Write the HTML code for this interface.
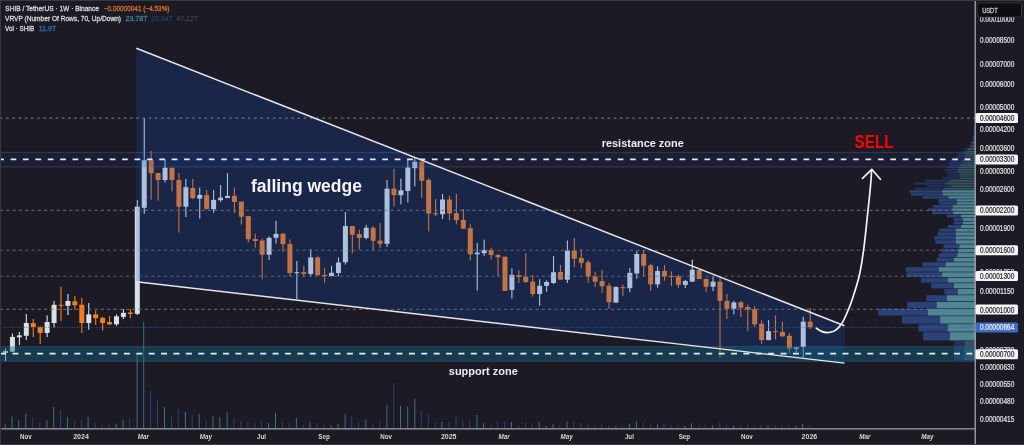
<!DOCTYPE html>
<html><head><meta charset="utf-8"><style>html,body{margin:0;padding:0;background:#1c1a24;overflow:hidden}svg{display:block;will-change:transform}</style></head>
<body><svg width="1024" height="445" viewBox="0 0 1024 445"><rect x="0" y="0" width="1024" height="445" fill="#1c1a24"/><rect x="4.70" y="424.1" width="1.0" height="4.2" fill="#3a7282"/><rect x="11.50" y="416.4" width="1.0" height="11.9" fill="#3a7282"/><rect x="18.20" y="420.2" width="1.0" height="8.1" fill="#3a7282"/><rect x="25.30" y="413.6" width="1.0" height="14.7" fill="#3a7282"/><rect x="32.30" y="417.8" width="1.0" height="10.5" fill="#274275"/><rect x="39.30" y="422.3" width="1.0" height="6.0" fill="#274275"/><rect x="46.40" y="420.2" width="1.0" height="8.1" fill="#3a7282"/><rect x="53.20" y="407.0" width="1.0" height="21.3" fill="#3a7282"/><rect x="60.00" y="410.5" width="1.0" height="17.8" fill="#274275"/><rect x="67.00" y="417.1" width="1.0" height="11.2" fill="#3a7282"/><rect x="74.00" y="421.1" width="1.0" height="7.2" fill="#274275"/><rect x="80.80" y="419.4" width="1.0" height="8.9" fill="#274275"/><rect x="87.60" y="416.6" width="1.0" height="11.7" fill="#3a7282"/><rect x="94.60" y="422.5" width="1.0" height="5.8" fill="#274275"/><rect x="101.70" y="424.1" width="1.0" height="4.2" fill="#274275"/><rect x="108.50" y="424.6" width="1.0" height="3.7" fill="#274275"/><rect x="115.70" y="423.7" width="1.0" height="4.6" fill="#3a7282"/><rect x="122.50" y="419.9" width="1.0" height="8.4" fill="#3a7282"/><rect x="129.10" y="419.4" width="1.0" height="8.9" fill="#274275"/><rect x="136.60" y="355.0" width="1.0" height="73.3" fill="#3a7282"/><rect x="143.20" y="321.9" width="1.0" height="106.4" fill="#3a7282"/><rect x="150.00" y="391.0" width="1.0" height="37.3" fill="#274275"/><rect x="157.00" y="400.2" width="1.0" height="28.1" fill="#274275"/><rect x="164.00" y="407.0" width="1.0" height="21.3" fill="#3a7282"/><rect x="171.00" y="416.4" width="1.0" height="11.9" fill="#274275"/><rect x="177.80" y="408.9" width="1.0" height="19.4" fill="#274275"/><rect x="184.90" y="411.7" width="1.0" height="16.6" fill="#3a7282"/><rect x="191.70" y="415.0" width="1.0" height="13.3" fill="#274275"/><rect x="198.70" y="414.0" width="1.0" height="14.3" fill="#3a7282"/><rect x="205.70" y="420.2" width="1.0" height="8.1" fill="#274275"/><rect x="212.50" y="416.0" width="1.0" height="12.3" fill="#3a7282"/><rect x="219.30" y="416.9" width="1.0" height="11.4" fill="#3a7282"/><rect x="226.60" y="412.0" width="1.0" height="16.3" fill="#3a7282"/><rect x="233.40" y="418.7" width="1.0" height="9.6" fill="#274275"/><rect x="240.40" y="421.1" width="1.0" height="7.2" fill="#274275"/><rect x="247.40" y="422.0" width="1.0" height="6.3" fill="#274275"/><rect x="254.40" y="423.4" width="1.0" height="4.9" fill="#274275"/><rect x="261.00" y="421.1" width="1.0" height="7.2" fill="#274275"/><rect x="268.00" y="423.0" width="1.0" height="5.3" fill="#3a7282"/><rect x="275.00" y="412.7" width="1.0" height="15.6" fill="#3a7282"/><rect x="281.80" y="422.0" width="1.0" height="6.3" fill="#274275"/><rect x="288.90" y="423.0" width="1.0" height="5.3" fill="#274275"/><rect x="295.90" y="417.6" width="1.0" height="10.7" fill="#3a7282"/><rect x="302.90" y="424.6" width="1.0" height="3.7" fill="#274275"/><rect x="309.50" y="422.0" width="1.0" height="6.3" fill="#3a7282"/><rect x="316.50" y="423.4" width="1.0" height="4.9" fill="#274275"/><rect x="323.60" y="424.6" width="1.0" height="3.7" fill="#274275"/><rect x="330.60" y="425.3" width="1.0" height="3.0" fill="#3a7282"/><rect x="337.60" y="423.9" width="1.0" height="4.4" fill="#3a7282"/><rect x="344.60" y="414.1" width="1.0" height="14.2" fill="#3a7282"/><rect x="351.20" y="416.4" width="1.0" height="11.9" fill="#274275"/><rect x="358.00" y="422.0" width="1.0" height="6.3" fill="#274275"/><rect x="365.30" y="419.7" width="1.0" height="8.6" fill="#3a7282"/><rect x="372.30" y="423.9" width="1.0" height="4.4" fill="#274275"/><rect x="379.10" y="421.1" width="1.0" height="7.2" fill="#274275"/><rect x="386.40" y="404.7" width="1.0" height="23.6" fill="#3a7282"/><rect x="393.20" y="382.9" width="1.0" height="45.4" fill="#274275"/><rect x="400.00" y="405.6" width="1.0" height="22.7" fill="#3a7282"/><rect x="407.20" y="406.8" width="1.0" height="21.5" fill="#3a7282"/><rect x="414.30" y="398.8" width="1.0" height="29.5" fill="#3a7282"/><rect x="420.80" y="411.0" width="1.0" height="17.3" fill="#274275"/><rect x="427.80" y="414.5" width="1.0" height="13.8" fill="#274275"/><rect x="434.90" y="422.3" width="1.0" height="6.0" fill="#274275"/><rect x="441.40" y="422.0" width="1.0" height="6.3" fill="#3a7282"/><rect x="448.50" y="422.0" width="1.0" height="6.3" fill="#274275"/><rect x="455.50" y="414.5" width="1.0" height="13.8" fill="#274275"/><rect x="462.30" y="419.7" width="1.0" height="8.6" fill="#274275"/><rect x="469.10" y="420.4" width="1.0" height="7.9" fill="#274275"/><rect x="476.50" y="415.0" width="1.0" height="13.3" fill="#3a7282"/><rect x="483.10" y="422.7" width="1.0" height="5.6" fill="#3a7282"/><rect x="490.10" y="425.1" width="1.0" height="3.2" fill="#274275"/><rect x="497.20" y="421.1" width="1.0" height="7.2" fill="#274275"/><rect x="504.20" y="421.1" width="1.0" height="7.2" fill="#274275"/><rect x="511.00" y="422.0" width="1.0" height="6.3" fill="#3a7282"/><rect x="518.00" y="425.1" width="1.0" height="3.2" fill="#274275"/><rect x="525.00" y="422.7" width="1.0" height="5.6" fill="#274275"/><rect x="531.60" y="423.4" width="1.0" height="4.9" fill="#274275"/><rect x="538.60" y="422.0" width="1.0" height="6.3" fill="#3a7282"/><rect x="545.70" y="425.8" width="1.0" height="2.5" fill="#3a7282"/><rect x="552.50" y="423.9" width="1.0" height="4.4" fill="#3a7282"/><rect x="559.30" y="425.1" width="1.0" height="3.2" fill="#274275"/><rect x="566.50" y="421.6" width="1.0" height="6.7" fill="#3a7282"/><rect x="573.30" y="421.6" width="1.0" height="6.7" fill="#274275"/><rect x="580.40" y="422.7" width="1.0" height="5.6" fill="#274275"/><rect x="587.40" y="424.4" width="1.0" height="3.9" fill="#274275"/><rect x="594.20" y="425.1" width="1.0" height="3.2" fill="#274275"/><rect x="601.20" y="423.9" width="1.0" height="4.4" fill="#274275"/><rect x="608.20" y="425.1" width="1.0" height="3.2" fill="#274275"/><rect x="615.30" y="426.2" width="1.0" height="2.1" fill="#3a7282"/><rect x="621.80" y="425.8" width="1.0" height="2.5" fill="#274275"/><rect x="628.90" y="423.4" width="1.0" height="4.9" fill="#3a7282"/><rect x="635.90" y="421.1" width="1.0" height="7.2" fill="#3a7282"/><rect x="642.90" y="422.7" width="1.0" height="5.6" fill="#274275"/><rect x="650.00" y="424.4" width="1.0" height="3.9" fill="#274275"/><rect x="657.00" y="424.4" width="1.0" height="3.9" fill="#3a7282"/><rect x="663.50" y="423.9" width="1.0" height="4.4" fill="#274275"/><rect x="670.60" y="425.1" width="1.0" height="3.2" fill="#274275"/><rect x="677.40" y="425.1" width="1.0" height="3.2" fill="#274275"/><rect x="684.40" y="425.8" width="1.0" height="2.5" fill="#3a7282"/><rect x="691.00" y="423.4" width="1.0" height="4.9" fill="#3a7282"/><rect x="698.50" y="425.8" width="1.0" height="2.5" fill="#274275"/><rect x="705.00" y="425.1" width="1.0" height="3.2" fill="#274275"/><rect x="711.90" y="425.5" width="1.0" height="2.8" fill="#3a7282"/><rect x="719.40" y="422.0" width="1.0" height="6.3" fill="#274275"/><rect x="726.00" y="425.0" width="1.0" height="3.3" fill="#274275"/><rect x="733.00" y="425.5" width="1.0" height="2.8" fill="#3a7282"/><rect x="740.00" y="425.5" width="1.0" height="2.8" fill="#274275"/><rect x="747.10" y="424.0" width="1.0" height="4.3" fill="#274275"/><rect x="753.90" y="425.5" width="1.0" height="2.8" fill="#274275"/><rect x="760.40" y="425.0" width="1.0" height="3.3" fill="#274275"/><rect x="767.50" y="425.5" width="1.0" height="2.8" fill="#3a7282"/><rect x="774.50" y="425.0" width="1.0" height="3.3" fill="#274275"/><rect x="781.50" y="425.5" width="1.0" height="2.8" fill="#274275"/><rect x="788.50" y="425.5" width="1.0" height="2.8" fill="#274275"/><rect x="795.50" y="425.5" width="1.0" height="2.8" fill="#3a7282"/><rect x="802.10" y="423.9" width="1.0" height="4.4" fill="#3a7282"/><rect x="809.20" y="425.0" width="1.0" height="3.3" fill="#274275"/><rect x="4.95" y="348.7" width="1.1" height="12.3" fill="#d9e1e5"/><rect x="3.00" y="351.0" width="5.0" height="2.0" fill="#d9e1e5"/><rect x="11.88" y="333.5" width="1.1" height="18.5" fill="#d9e1e5"/><rect x="9.93" y="336.9" width="5.0" height="14.7" fill="#d9e1e5"/><rect x="18.82" y="332.0" width="1.1" height="13.0" fill="#d9e1e5"/><rect x="16.87" y="335.4" width="5.0" height="1.9" fill="#d9e1e5"/><rect x="25.76" y="314.0" width="1.1" height="26.0" fill="#d9e1e5"/><rect x="23.81" y="323.0" width="5.0" height="12.8" fill="#d9e1e5"/><rect x="32.70" y="319.0" width="1.1" height="18.0" fill="#f57d1f"/><rect x="30.75" y="323.2" width="5.0" height="3.8" fill="#f57d1f"/><rect x="39.63" y="326.8" width="1.1" height="17.2" fill="#f57d1f"/><rect x="37.68" y="326.8" width="5.0" height="6.1" fill="#f57d1f"/><rect x="46.57" y="315.3" width="1.1" height="21.7" fill="#d9e1e5"/><rect x="44.62" y="322.0" width="5.0" height="10.9" fill="#d9e1e5"/><rect x="53.51" y="301.0" width="1.1" height="26.4" fill="#d9e1e5"/><rect x="51.56" y="304.8" width="5.0" height="18.2" fill="#d9e1e5"/><rect x="60.44" y="286.7" width="1.1" height="34.3" fill="#f57d1f"/><rect x="58.49" y="304.8" width="5.0" height="1.0" fill="#f57d1f"/><rect x="67.38" y="294.0" width="1.1" height="21.0" fill="#d9e1e5"/><rect x="65.43" y="301.0" width="5.0" height="4.8" fill="#d9e1e5"/><rect x="74.32" y="295.9" width="1.1" height="13.7" fill="#f57d1f"/><rect x="72.37" y="301.4" width="5.0" height="3.8" fill="#f57d1f"/><rect x="81.25" y="298.0" width="1.1" height="35.0" fill="#f57d1f"/><rect x="79.30" y="304.8" width="5.0" height="18.2" fill="#f57d1f"/><rect x="88.19" y="303.0" width="1.1" height="26.7" fill="#d9e1e5"/><rect x="86.24" y="314.4" width="5.0" height="8.6" fill="#d9e1e5"/><rect x="95.13" y="310.6" width="1.1" height="14.3" fill="#f57d1f"/><rect x="93.18" y="314.4" width="5.0" height="3.8" fill="#f57d1f"/><rect x="102.07" y="317.0" width="1.1" height="13.6" fill="#f57d1f"/><rect x="100.12" y="317.8" width="5.0" height="5.2" fill="#f57d1f"/><rect x="109.00" y="316.0" width="1.1" height="8.5" fill="#f57d1f"/><rect x="107.05" y="322.0" width="5.0" height="2.5" fill="#f57d1f"/><rect x="115.94" y="314.4" width="1.1" height="11.4" fill="#d9e1e5"/><rect x="113.99" y="316.3" width="5.0" height="8.0" fill="#d9e1e5"/><rect x="122.88" y="309.0" width="1.1" height="10.0" fill="#d9e1e5"/><rect x="120.93" y="312.8" width="5.0" height="4.1" fill="#d9e1e5"/><rect x="129.81" y="309.0" width="1.1" height="9.2" fill="#f57d1f"/><rect x="127.86" y="312.5" width="5.0" height="1.5" fill="#f57d1f"/><rect x="136.75" y="200.2" width="1.1" height="114.8" fill="#d9e1e5"/><rect x="134.80" y="206.7" width="5.0" height="107.1" fill="#d9e1e5"/><rect x="143.69" y="118.0" width="1.1" height="95.7" fill="#d9e1e5"/><rect x="141.74" y="160.2" width="5.0" height="47.6" fill="#d9e1e5"/><rect x="150.62" y="151.0" width="1.1" height="48.7" fill="#f57d1f"/><rect x="148.67" y="160.2" width="5.0" height="13.0" fill="#f57d1f"/><rect x="157.56" y="173.0" width="1.1" height="27.8" fill="#f57d1f"/><rect x="155.61" y="173.0" width="5.0" height="7.0" fill="#f57d1f"/><rect x="164.50" y="159.7" width="1.1" height="22.7" fill="#d9e1e5"/><rect x="162.55" y="167.8" width="5.0" height="12.2" fill="#d9e1e5"/><rect x="171.44" y="167.8" width="1.1" height="23.7" fill="#f57d1f"/><rect x="169.49" y="167.8" width="5.0" height="12.2" fill="#f57d1f"/><rect x="178.37" y="172.9" width="1.1" height="59.7" fill="#f57d1f"/><rect x="176.42" y="180.0" width="5.0" height="26.7" fill="#f57d1f"/><rect x="185.31" y="178.9" width="1.1" height="38.1" fill="#d9e1e5"/><rect x="183.36" y="187.2" width="5.0" height="19.5" fill="#d9e1e5"/><rect x="192.25" y="178.9" width="1.1" height="20.3" fill="#f57d1f"/><rect x="190.30" y="188.0" width="5.0" height="10.1" fill="#f57d1f"/><rect x="199.18" y="187.5" width="1.1" height="31.1" fill="#d9e1e5"/><rect x="197.23" y="194.9" width="5.0" height="3.7" fill="#d9e1e5"/><rect x="206.12" y="190.0" width="1.1" height="19.2" fill="#f57d1f"/><rect x="204.17" y="195.2" width="5.0" height="14.0" fill="#f57d1f"/><rect x="213.06" y="190.0" width="1.1" height="22.7" fill="#d9e1e5"/><rect x="211.11" y="199.9" width="5.0" height="9.3" fill="#d9e1e5"/><rect x="219.99" y="185.0" width="1.1" height="16.9" fill="#d9e1e5"/><rect x="218.04" y="197.6" width="5.0" height="2.6" fill="#d9e1e5"/><rect x="226.93" y="173.2" width="1.1" height="24.9" fill="#d9e1e5"/><rect x="224.98" y="195.9" width="5.0" height="2.2" fill="#d9e1e5"/><rect x="233.87" y="187.5" width="1.1" height="25.7" fill="#f57d1f"/><rect x="231.92" y="195.9" width="5.0" height="6.1" fill="#f57d1f"/><rect x="240.81" y="201.6" width="1.1" height="22.8" fill="#f57d1f"/><rect x="238.86" y="201.6" width="5.0" height="15.1" fill="#f57d1f"/><rect x="247.74" y="216.1" width="1.1" height="26.4" fill="#f57d1f"/><rect x="245.79" y="216.1" width="5.0" height="23.2" fill="#f57d1f"/><rect x="254.68" y="233.7" width="1.1" height="13.9" fill="#f57d1f"/><rect x="252.73" y="239.0" width="5.0" height="2.0" fill="#f57d1f"/><rect x="261.62" y="238.4" width="1.1" height="40.9" fill="#f57d1f"/><rect x="259.67" y="240.5" width="5.0" height="14.2" fill="#f57d1f"/><rect x="268.55" y="236.6" width="1.1" height="23.4" fill="#d9e1e5"/><rect x="266.60" y="237.8" width="5.0" height="16.9" fill="#d9e1e5"/><rect x="275.49" y="220.8" width="1.1" height="22.8" fill="#d9e1e5"/><rect x="273.54" y="233.9" width="5.0" height="3.9" fill="#d9e1e5"/><rect x="282.43" y="233.0" width="1.1" height="18.7" fill="#f57d1f"/><rect x="280.48" y="233.7" width="5.0" height="10.4" fill="#f57d1f"/><rect x="289.36" y="239.5" width="1.1" height="36.8" fill="#f57d1f"/><rect x="287.41" y="244.1" width="5.0" height="28.9" fill="#f57d1f"/><rect x="296.30" y="261.0" width="1.1" height="38.0" fill="#d9e1e5"/><rect x="294.35" y="272.2" width="5.0" height="1.0" fill="#d9e1e5"/><rect x="303.24" y="265.8" width="1.1" height="11.1" fill="#f57d1f"/><rect x="301.29" y="272.2" width="5.0" height="1.8" fill="#f57d1f"/><rect x="310.18" y="249.1" width="1.1" height="27.2" fill="#d9e1e5"/><rect x="308.23" y="257.4" width="5.0" height="16.6" fill="#d9e1e5"/><rect x="317.11" y="256.4" width="1.1" height="18.8" fill="#f57d1f"/><rect x="315.16" y="257.4" width="5.0" height="17.8" fill="#f57d1f"/><rect x="324.05" y="268.1" width="1.1" height="14.7" fill="#f57d1f"/><rect x="322.10" y="275.0" width="5.0" height="1.0" fill="#f57d1f"/><rect x="330.99" y="265.8" width="1.1" height="10.3" fill="#d9e1e5"/><rect x="329.04" y="272.8" width="5.0" height="3.3" fill="#d9e1e5"/><rect x="337.92" y="257.4" width="1.1" height="18.9" fill="#d9e1e5"/><rect x="335.97" y="262.5" width="5.0" height="10.5" fill="#d9e1e5"/><rect x="344.86" y="212.0" width="1.1" height="52.6" fill="#d9e1e5"/><rect x="342.91" y="226.0" width="5.0" height="36.2" fill="#d9e1e5"/><rect x="351.80" y="226.0" width="1.1" height="27.4" fill="#f57d1f"/><rect x="349.85" y="226.0" width="5.0" height="8.7" fill="#f57d1f"/><rect x="358.73" y="229.6" width="1.1" height="19.7" fill="#f57d1f"/><rect x="356.78" y="234.1" width="5.0" height="3.9" fill="#f57d1f"/><rect x="365.67" y="224.9" width="1.1" height="14.5" fill="#d9e1e5"/><rect x="363.72" y="227.8" width="5.0" height="10.2" fill="#d9e1e5"/><rect x="372.61" y="226.0" width="1.1" height="24.9" fill="#f57d1f"/><rect x="370.66" y="227.8" width="5.0" height="13.0" fill="#f57d1f"/><rect x="379.55" y="223.1" width="1.1" height="25.1" fill="#f57d1f"/><rect x="377.60" y="240.6" width="5.0" height="3.2" fill="#f57d1f"/><rect x="386.48" y="179.9" width="1.1" height="67.1" fill="#d9e1e5"/><rect x="384.53" y="188.7" width="5.0" height="55.1" fill="#d9e1e5"/><rect x="393.42" y="168.8" width="1.1" height="37.9" fill="#f57d1f"/><rect x="391.47" y="188.7" width="5.0" height="6.4" fill="#f57d1f"/><rect x="400.36" y="178.7" width="1.1" height="25.7" fill="#d9e1e5"/><rect x="398.41" y="190.4" width="5.0" height="4.7" fill="#d9e1e5"/><rect x="407.29" y="160.0" width="1.1" height="42.6" fill="#d9e1e5"/><rect x="405.34" y="167.6" width="5.0" height="23.4" fill="#d9e1e5"/><rect x="414.23" y="157.6" width="1.1" height="28.7" fill="#d9e1e5"/><rect x="412.28" y="161.7" width="5.0" height="6.5" fill="#d9e1e5"/><rect x="421.17" y="161.7" width="1.1" height="36.2" fill="#f57d1f"/><rect x="419.22" y="161.7" width="5.0" height="19.0" fill="#f57d1f"/><rect x="428.10" y="178.1" width="1.1" height="53.2" fill="#f57d1f"/><rect x="426.15" y="179.9" width="5.0" height="33.6" fill="#f57d1f"/><rect x="435.04" y="199.0" width="1.1" height="17.1" fill="#f57d1f"/><rect x="433.09" y="213.2" width="5.0" height="1.1" fill="#f57d1f"/><rect x="441.98" y="194.0" width="1.1" height="25.0" fill="#d9e1e5"/><rect x="440.03" y="199.5" width="5.0" height="14.8" fill="#d9e1e5"/><rect x="448.92" y="195.7" width="1.1" height="24.5" fill="#f57d1f"/><rect x="446.97" y="199.5" width="5.0" height="14.0" fill="#f57d1f"/><rect x="455.85" y="194.0" width="1.1" height="30.3" fill="#f57d1f"/><rect x="453.90" y="213.2" width="5.0" height="7.0" fill="#f57d1f"/><rect x="462.79" y="209.1" width="1.1" height="19.7" fill="#f57d1f"/><rect x="460.84" y="219.9" width="5.0" height="8.9" fill="#f57d1f"/><rect x="469.73" y="224.3" width="1.1" height="36.3" fill="#f57d1f"/><rect x="467.78" y="228.2" width="5.0" height="26.1" fill="#f57d1f"/><rect x="476.66" y="243.2" width="1.1" height="47.3" fill="#d9e1e5"/><rect x="474.71" y="252.6" width="5.0" height="1.7" fill="#d9e1e5"/><rect x="483.60" y="239.7" width="1.1" height="16.2" fill="#d9e1e5"/><rect x="481.65" y="250.2" width="5.0" height="3.0" fill="#d9e1e5"/><rect x="490.54" y="247.7" width="1.1" height="11.9" fill="#f57d1f"/><rect x="488.59" y="250.0" width="5.0" height="5.0" fill="#f57d1f"/><rect x="497.47" y="253.8" width="1.1" height="22.2" fill="#f57d1f"/><rect x="495.52" y="255.0" width="5.0" height="2.3" fill="#f57d1f"/><rect x="504.41" y="256.7" width="1.1" height="34.2" fill="#f57d1f"/><rect x="502.46" y="256.7" width="5.0" height="34.2" fill="#f57d1f"/><rect x="511.35" y="268.4" width="1.1" height="30.3" fill="#d9e1e5"/><rect x="509.40" y="274.9" width="5.0" height="15.0" fill="#d9e1e5"/><rect x="518.29" y="270.2" width="1.1" height="12.8" fill="#f57d1f"/><rect x="516.34" y="275.1" width="5.0" height="1.9" fill="#f57d1f"/><rect x="525.22" y="253.2" width="1.1" height="29.8" fill="#f57d1f"/><rect x="523.27" y="276.7" width="5.0" height="5.3" fill="#f57d1f"/><rect x="532.16" y="275.0" width="1.1" height="21.7" fill="#f57d1f"/><rect x="530.21" y="281.7" width="5.0" height="12.3" fill="#f57d1f"/><rect x="539.10" y="279.1" width="1.1" height="26.7" fill="#d9e1e5"/><rect x="537.15" y="285.8" width="5.0" height="8.2" fill="#d9e1e5"/><rect x="546.03" y="280.3" width="1.1" height="11.4" fill="#d9e1e5"/><rect x="544.08" y="282.0" width="5.0" height="3.8" fill="#d9e1e5"/><rect x="552.97" y="256.1" width="1.1" height="27.9" fill="#d9e1e5"/><rect x="551.02" y="272.2" width="5.0" height="10.8" fill="#d9e1e5"/><rect x="559.91" y="264.9" width="1.1" height="14.8" fill="#f57d1f"/><rect x="557.96" y="272.0" width="5.0" height="7.7" fill="#f57d1f"/><rect x="566.84" y="240.5" width="1.1" height="42.5" fill="#d9e1e5"/><rect x="564.89" y="250.5" width="5.0" height="29.2" fill="#d9e1e5"/><rect x="573.78" y="238.0" width="1.1" height="28.9" fill="#f57d1f"/><rect x="571.83" y="250.5" width="5.0" height="8.2" fill="#f57d1f"/><rect x="580.72" y="249.3" width="1.1" height="18.8" fill="#f57d1f"/><rect x="578.77" y="257.9" width="5.0" height="4.9" fill="#f57d1f"/><rect x="587.66" y="260.2" width="1.1" height="22.7" fill="#f57d1f"/><rect x="585.71" y="262.2" width="5.0" height="14.4" fill="#f57d1f"/><rect x="594.59" y="271.7" width="1.1" height="15.3" fill="#f57d1f"/><rect x="592.64" y="276.5" width="5.0" height="5.2" fill="#f57d1f"/><rect x="601.53" y="269.9" width="1.1" height="23.0" fill="#f57d1f"/><rect x="599.58" y="281.0" width="5.0" height="5.2" fill="#f57d1f"/><rect x="608.47" y="283.1" width="1.1" height="25.6" fill="#f57d1f"/><rect x="606.52" y="285.8" width="5.0" height="16.4" fill="#f57d1f"/><rect x="615.40" y="286.2" width="1.1" height="16.4" fill="#d9e1e5"/><rect x="613.45" y="287.0" width="5.0" height="15.6" fill="#d9e1e5"/><rect x="622.34" y="284.7" width="1.1" height="11.3" fill="#f57d1f"/><rect x="620.39" y="287.2" width="5.0" height="1.0" fill="#f57d1f"/><rect x="629.28" y="268.1" width="1.1" height="24.2" fill="#d9e1e5"/><rect x="627.33" y="272.9" width="5.0" height="15.3" fill="#d9e1e5"/><rect x="636.21" y="251.1" width="1.1" height="27.7" fill="#d9e1e5"/><rect x="634.26" y="254.0" width="5.0" height="19.5" fill="#d9e1e5"/><rect x="643.15" y="249.8" width="1.1" height="26.6" fill="#f57d1f"/><rect x="641.20" y="254.0" width="5.0" height="11.8" fill="#f57d1f"/><rect x="650.09" y="263.6" width="1.1" height="27.3" fill="#f57d1f"/><rect x="648.14" y="265.2" width="5.0" height="19.1" fill="#f57d1f"/><rect x="657.03" y="266.4" width="1.1" height="21.4" fill="#d9e1e5"/><rect x="655.08" y="271.0" width="5.0" height="13.3" fill="#d9e1e5"/><rect x="663.96" y="265.2" width="1.1" height="15.6" fill="#f57d1f"/><rect x="662.01" y="270.9" width="5.0" height="5.5" fill="#f57d1f"/><rect x="670.90" y="271.5" width="1.1" height="14.3" fill="#f57d1f"/><rect x="668.95" y="276.0" width="5.0" height="1.0" fill="#f57d1f"/><rect x="677.84" y="274.5" width="1.1" height="13.4" fill="#f57d1f"/><rect x="675.89" y="276.4" width="5.0" height="8.5" fill="#f57d1f"/><rect x="684.77" y="279.9" width="1.1" height="8.2" fill="#d9e1e5"/><rect x="682.82" y="281.1" width="5.0" height="3.8" fill="#d9e1e5"/><rect x="691.71" y="259.7" width="1.1" height="22.0" fill="#d9e1e5"/><rect x="689.76" y="269.7" width="5.0" height="12.0" fill="#d9e1e5"/><rect x="698.65" y="269.1" width="1.1" height="9.9" fill="#f57d1f"/><rect x="696.70" y="269.9" width="5.0" height="9.1" fill="#f57d1f"/><rect x="705.58" y="278.8" width="1.1" height="12.9" fill="#f57d1f"/><rect x="703.63" y="278.8" width="5.0" height="7.9" fill="#f57d1f"/><rect x="712.52" y="277.0" width="1.1" height="14.1" fill="#d9e1e5"/><rect x="710.57" y="281.7" width="5.0" height="5.0" fill="#d9e1e5"/><rect x="719.46" y="278.2" width="1.1" height="79.3" fill="#f57d1f"/><rect x="717.51" y="281.7" width="5.0" height="19.3" fill="#f57d1f"/><rect x="726.39" y="294.0" width="1.1" height="25.0" fill="#f57d1f"/><rect x="724.44" y="300.9" width="5.0" height="7.9" fill="#f57d1f"/><rect x="733.33" y="300.9" width="1.1" height="13.4" fill="#d9e1e5"/><rect x="731.38" y="302.5" width="5.0" height="6.3" fill="#d9e1e5"/><rect x="740.27" y="300.9" width="1.1" height="16.1" fill="#f57d1f"/><rect x="738.32" y="302.3" width="5.0" height="5.4" fill="#f57d1f"/><rect x="747.21" y="304.5" width="1.1" height="26.8" fill="#f57d1f"/><rect x="745.26" y="307.0" width="5.0" height="2.5" fill="#f57d1f"/><rect x="754.14" y="306.1" width="1.1" height="20.8" fill="#f57d1f"/><rect x="752.19" y="309.3" width="5.0" height="15.0" fill="#f57d1f"/><rect x="761.08" y="320.2" width="1.1" height="23.8" fill="#f57d1f"/><rect x="759.13" y="323.7" width="5.0" height="16.4" fill="#f57d1f"/><rect x="768.02" y="320.2" width="1.1" height="19.9" fill="#d9e1e5"/><rect x="766.07" y="331.1" width="5.0" height="9.0" fill="#d9e1e5"/><rect x="774.95" y="315.5" width="1.1" height="24.0" fill="#f57d1f"/><rect x="773.00" y="331.2" width="5.0" height="1.0" fill="#f57d1f"/><rect x="781.89" y="321.7" width="1.1" height="15.3" fill="#f57d1f"/><rect x="779.94" y="331.9" width="5.0" height="4.4" fill="#f57d1f"/><rect x="788.83" y="333.1" width="1.1" height="20.3" fill="#f57d1f"/><rect x="786.88" y="335.8" width="5.0" height="13.0" fill="#f57d1f"/><rect x="795.77" y="347.0" width="1.1" height="5.3" fill="#d9e1e5"/><rect x="793.82" y="347.4" width="5.0" height="1.6" fill="#d9e1e5"/><rect x="802.70" y="316.7" width="1.1" height="40.8" fill="#d9e1e5"/><rect x="800.75" y="321.7" width="5.0" height="25.3" fill="#d9e1e5"/><rect x="809.64" y="308.1" width="1.1" height="20.9" fill="#f57d1f"/><rect x="807.69" y="321.7" width="5.0" height="5.5" fill="#f57d1f"/><polygon points="136.3,48.3 844.5,325.7 844.5,363.1 136.3,281.8" fill="#1450c8" fill-opacity="0.22"/><rect x="974.2" y="122.50" width="0.8" height="6.90" fill="#26386a" fill-opacity="0.8"/><rect x="975.0" y="122.50" width="0.0" height="6.90" fill="#3a5e6a" fill-opacity="0.85"/><rect x="973.5" y="130.00" width="1.0" height="5.40" fill="#26386a" fill-opacity="0.8"/><rect x="974.5" y="130.00" width="0.5" height="5.40" fill="#3a5e6a" fill-opacity="0.85"/><rect x="972.5" y="136.00" width="1.5" height="4.40" fill="#26386a" fill-opacity="0.8"/><rect x="974.0" y="136.00" width="1.0" height="4.40" fill="#3a5e6a" fill-opacity="0.85"/><rect x="971.0" y="141.00" width="2.0" height="3.40" fill="#26386a" fill-opacity="0.8"/><rect x="973.0" y="141.00" width="2.0" height="3.40" fill="#3a5e6a" fill-opacity="0.85"/><rect x="969.0" y="145.00" width="2.5" height="2.40" fill="#26386a" fill-opacity="0.8"/><rect x="971.5" y="145.00" width="3.5" height="2.40" fill="#3a5e6a" fill-opacity="0.85"/><rect x="965.0" y="148.00" width="2.6" height="2.30" fill="#26386a" fill-opacity="0.8"/><rect x="967.6" y="148.00" width="7.4" height="2.30" fill="#3a5e6a" fill-opacity="0.85"/><rect x="962.0" y="150.90" width="4.5" height="1.30" fill="#26386a" fill-opacity="0.8"/><rect x="966.5" y="150.90" width="8.5" height="1.30" fill="#3a5e6a" fill-opacity="0.85"/><rect x="958.6" y="152.80" width="6.4" height="1.90" fill="#26386a" fill-opacity="0.8"/><rect x="965.0" y="152.80" width="10.0" height="1.90" fill="#3a5e6a" fill-opacity="0.85"/><rect x="957.1" y="155.30" width="7.9" height="1.60" fill="#26386a" fill-opacity="0.8"/><rect x="965.0" y="155.30" width="10.0" height="1.60" fill="#3a5e6a" fill-opacity="0.85"/><rect x="954.2" y="157.50" width="9.8" height="1.50" fill="#26386a" fill-opacity="0.8"/><rect x="964.0" y="157.50" width="11.0" height="1.50" fill="#3a5e6a" fill-opacity="0.85"/><rect x="950.3" y="159.60" width="12.2" height="1.60" fill="#26386a" fill-opacity="0.8"/><rect x="962.5" y="159.60" width="12.5" height="1.60" fill="#3a5e6a" fill-opacity="0.85"/><rect x="948.4" y="161.80" width="13.6" height="1.80" fill="#26386a" fill-opacity="0.8"/><rect x="962.0" y="161.80" width="13.0" height="1.80" fill="#3a5e6a" fill-opacity="0.85"/><rect x="950.0" y="164.20" width="10.0" height="1.80" fill="#26386a" fill-opacity="0.8"/><rect x="960.0" y="164.20" width="15.0" height="1.80" fill="#3a5e6a" fill-opacity="0.85"/><rect x="947.4" y="166.60" width="11.6" height="1.80" fill="#26386a" fill-opacity="0.8"/><rect x="959.0" y="166.60" width="16.0" height="1.80" fill="#3a5e6a" fill-opacity="0.85"/><rect x="944.5" y="169.00" width="13.1" height="1.70" fill="#26386a" fill-opacity="0.8"/><rect x="957.6" y="169.00" width="17.4" height="1.70" fill="#3a5e6a" fill-opacity="0.85"/><rect x="946.4" y="171.30" width="11.7" height="1.70" fill="#26386a" fill-opacity="0.8"/><rect x="958.1" y="171.30" width="16.9" height="1.70" fill="#3a5e6a" fill-opacity="0.85"/><rect x="947.5" y="173.60" width="12.3" height="2.00" fill="#26386a" fill-opacity="0.8"/><rect x="959.8" y="173.60" width="15.2" height="2.00" fill="#3a5e6a" fill-opacity="0.85"/><rect x="947.0" y="176.20" width="12.8" height="0.70" fill="#26386a" fill-opacity="0.8"/><rect x="959.8" y="176.20" width="15.2" height="0.70" fill="#3a5e6a" fill-opacity="0.85"/><rect x="942.2" y="177.50" width="17.6" height="1.60" fill="#26386a" fill-opacity="0.8"/><rect x="959.8" y="177.50" width="15.2" height="1.60" fill="#3a5e6a" fill-opacity="0.85"/><rect x="925.2" y="179.70" width="24.4" height="2.10" fill="#26386a" fill-opacity="0.8"/><rect x="949.6" y="179.70" width="25.4" height="2.10" fill="#3a5e6a" fill-opacity="0.85"/><rect x="914.6" y="182.40" width="30.6" height="2.20" fill="#26386a" fill-opacity="0.8"/><rect x="945.2" y="182.40" width="29.8" height="2.20" fill="#3a5e6a" fill-opacity="0.85"/><rect x="926.8" y="185.20" width="24.3" height="1.90" fill="#26386a" fill-opacity="0.8"/><rect x="951.1" y="185.20" width="23.9" height="1.90" fill="#3a5e6a" fill-opacity="0.85"/><rect x="914.6" y="187.70" width="29.4" height="2.00" fill="#26386a" fill-opacity="0.8"/><rect x="944.0" y="187.70" width="31.0" height="2.00" fill="#3a5e6a" fill-opacity="0.85"/><rect x="909.4" y="190.30" width="32.7" height="2.40" fill="#2c4884" fill-opacity="0.88"/><rect x="942.1" y="190.30" width="32.9" height="2.40" fill="#5592a2" fill-opacity="0.9"/><rect x="911.0" y="193.30" width="31.9" height="2.30" fill="#2c4884" fill-opacity="0.88"/><rect x="942.9" y="193.30" width="32.1" height="2.30" fill="#5592a2" fill-opacity="0.9"/><rect x="922.8" y="196.20" width="25.6" height="2.40" fill="#2c4884" fill-opacity="0.88"/><rect x="948.4" y="196.20" width="26.6" height="2.40" fill="#5592a2" fill-opacity="0.9"/><rect x="938.2" y="199.20" width="18.4" height="2.40" fill="#2c4884" fill-opacity="0.88"/><rect x="956.6" y="199.20" width="18.4" height="2.40" fill="#5592a2" fill-opacity="0.9"/><rect x="939.0" y="202.20" width="17.6" height="2.40" fill="#2c4884" fill-opacity="0.88"/><rect x="956.6" y="202.20" width="18.4" height="2.40" fill="#5592a2" fill-opacity="0.9"/><rect x="933.2" y="205.20" width="19.6" height="2.50" fill="#2c4884" fill-opacity="0.88"/><rect x="952.8" y="205.20" width="22.2" height="2.50" fill="#5592a2" fill-opacity="0.9"/><rect x="928.3" y="208.30" width="24.0" height="2.60" fill="#2c4884" fill-opacity="0.88"/><rect x="952.3" y="208.30" width="22.7" height="2.60" fill="#5592a2" fill-opacity="0.9"/><rect x="932.2" y="211.50" width="21.0" height="2.70" fill="#2c4884" fill-opacity="0.88"/><rect x="953.2" y="211.50" width="21.8" height="2.70" fill="#5592a2" fill-opacity="0.9"/><rect x="946.9" y="214.80" width="14.1" height="2.70" fill="#2c4884" fill-opacity="0.88"/><rect x="961.0" y="214.80" width="14.0" height="2.70" fill="#5592a2" fill-opacity="0.9"/><rect x="953.7" y="218.10" width="9.3" height="2.80" fill="#2c4884" fill-opacity="0.88"/><rect x="963.0" y="218.10" width="12.0" height="2.80" fill="#5592a2" fill-opacity="0.9"/><rect x="953.7" y="221.50" width="9.3" height="2.90" fill="#2c4884" fill-opacity="0.88"/><rect x="963.0" y="221.50" width="12.0" height="2.90" fill="#5592a2" fill-opacity="0.9"/><rect x="947.9" y="225.00" width="13.1" height="3.00" fill="#2c4884" fill-opacity="0.88"/><rect x="961.0" y="225.00" width="14.0" height="3.00" fill="#5592a2" fill-opacity="0.9"/><rect x="939.1" y="228.60" width="16.6" height="3.10" fill="#2c4884" fill-opacity="0.88"/><rect x="955.7" y="228.60" width="19.3" height="3.10" fill="#5592a2" fill-opacity="0.9"/><rect x="937.6" y="232.30" width="18.1" height="3.30" fill="#2c4884" fill-opacity="0.88"/><rect x="955.7" y="232.30" width="19.3" height="3.30" fill="#5592a2" fill-opacity="0.9"/><rect x="934.2" y="236.20" width="21.5" height="3.40" fill="#2c4884" fill-opacity="0.88"/><rect x="955.7" y="236.20" width="19.3" height="3.40" fill="#5592a2" fill-opacity="0.9"/><rect x="935.3" y="240.20" width="20.6" height="3.60" fill="#2c4884" fill-opacity="0.88"/><rect x="955.9" y="240.20" width="19.1" height="3.60" fill="#5592a2" fill-opacity="0.9"/><rect x="943.6" y="244.40" width="15.7" height="3.70" fill="#2c4884" fill-opacity="0.88"/><rect x="959.3" y="244.40" width="15.7" height="3.70" fill="#5592a2" fill-opacity="0.9"/><rect x="941.5" y="248.70" width="16.5" height="3.80" fill="#2c4884" fill-opacity="0.88"/><rect x="958.0" y="248.70" width="17.0" height="3.80" fill="#5592a2" fill-opacity="0.9"/><rect x="939.0" y="253.10" width="18.3" height="3.90" fill="#2c4884" fill-opacity="0.88"/><rect x="957.3" y="253.10" width="17.7" height="3.90" fill="#5592a2" fill-opacity="0.9"/><rect x="936.7" y="257.60" width="17.2" height="4.10" fill="#2c4884" fill-opacity="0.88"/><rect x="953.9" y="257.60" width="21.1" height="4.10" fill="#5592a2" fill-opacity="0.9"/><rect x="922.3" y="262.30" width="23.3" height="4.30" fill="#2c4884" fill-opacity="0.88"/><rect x="945.6" y="262.30" width="29.4" height="4.30" fill="#5592a2" fill-opacity="0.9"/><rect x="905.6" y="267.20" width="33.2" height="4.50" fill="#2c4884" fill-opacity="0.88"/><rect x="938.8" y="267.20" width="36.2" height="4.50" fill="#5592a2" fill-opacity="0.9"/><rect x="906.5" y="272.30" width="35.7" height="4.70" fill="#2c4884" fill-opacity="0.88"/><rect x="942.2" y="272.30" width="32.8" height="4.70" fill="#5592a2" fill-opacity="0.9"/><rect x="920.9" y="277.60" width="26.8" height="5.00" fill="#2c4884" fill-opacity="0.88"/><rect x="947.7" y="277.60" width="27.3" height="5.00" fill="#5592a2" fill-opacity="0.9"/><rect x="931.2" y="283.20" width="22.7" height="5.20" fill="#2c4884" fill-opacity="0.88"/><rect x="953.9" y="283.20" width="21.1" height="5.20" fill="#5592a2" fill-opacity="0.9"/><rect x="944.3" y="289.00" width="13.7" height="5.60" fill="#2c4884" fill-opacity="0.88"/><rect x="958.0" y="289.00" width="17.0" height="5.60" fill="#5592a2" fill-opacity="0.9"/><rect x="926.4" y="295.20" width="20.6" height="6.00" fill="#2c4884" fill-opacity="0.88"/><rect x="947.0" y="295.20" width="28.0" height="6.00" fill="#5592a2" fill-opacity="0.9"/><rect x="907.2" y="301.80" width="29.5" height="6.30" fill="#2c4884" fill-opacity="0.88"/><rect x="936.7" y="301.80" width="38.3" height="6.30" fill="#5592a2" fill-opacity="0.9"/><rect x="878.4" y="308.70" width="49.4" height="6.90" fill="#2c4884" fill-opacity="0.88"/><rect x="927.8" y="308.70" width="47.2" height="6.90" fill="#5592a2" fill-opacity="0.9"/><rect x="902.0" y="316.20" width="38.1" height="7.40" fill="#2c4884" fill-opacity="0.88"/><rect x="940.1" y="316.20" width="34.9" height="7.40" fill="#5592a2" fill-opacity="0.9"/><rect x="918.5" y="324.20" width="29.2" height="7.40" fill="#2c4884" fill-opacity="0.88"/><rect x="947.7" y="324.20" width="27.3" height="7.40" fill="#5592a2" fill-opacity="0.9"/><rect x="923.2" y="332.20" width="26.8" height="8.20" fill="#2c4884" fill-opacity="0.88"/><rect x="950.0" y="332.20" width="25.0" height="8.20" fill="#5592a2" fill-opacity="0.9"/><rect x="954.0" y="341.00" width="11.0" height="4.90" fill="#26386a" fill-opacity="0.8"/><rect x="965.0" y="341.00" width="10.0" height="4.90" fill="#3a5e6a" fill-opacity="0.85"/><rect x="954.0" y="346.50" width="10.5" height="6.40" fill="#26386a" fill-opacity="0.8"/><rect x="964.5" y="346.50" width="10.5" height="6.40" fill="#3a5e6a" fill-opacity="0.85"/><rect x="954.0" y="353.50" width="10.0" height="6.90" fill="#26386a" fill-opacity="0.8"/><rect x="964.0" y="353.50" width="11.0" height="6.90" fill="#3a5e6a" fill-opacity="0.85"/><rect x="0" y="152.2" width="975" height="14.8" fill="#143ca0" fill-opacity="0.15"/><line x1="0" y1="152.4" x2="975" y2="152.4" stroke="#7a8aa8" stroke-opacity="0.35" stroke-width="0.8"/><line x1="0" y1="166.9" x2="975" y2="166.9" stroke="#7a8aa8" stroke-opacity="0.35" stroke-width="0.8"/><rect x="0" y="346.5" width="975" height="14.9" fill="#0f6a8a" fill-opacity="0.42"/><line x1="0" y1="346.6" x2="975" y2="346.6" stroke="#7a8aa8" stroke-opacity="0.3" stroke-width="0.8"/><line x1="0" y1="361.3" x2="975" y2="361.3" stroke="#7a8aa8" stroke-opacity="0.3" stroke-width="0.8"/><line x1="0" y1="118.1" x2="975" y2="118.1" stroke="#75757f" stroke-width="1.1" stroke-dasharray="2.4 3.8"/><line x1="0" y1="210.4" x2="975" y2="210.4" stroke="#70707c" stroke-opacity="0.8" stroke-width="1.1" stroke-dasharray="3.1 3.2"/><line x1="0" y1="250.3" x2="975" y2="250.3" stroke="#70707c" stroke-opacity="0.8" stroke-width="1.1" stroke-dasharray="3.1 3.2"/><line x1="0" y1="276.3" x2="975" y2="276.3" stroke="#70707c" stroke-opacity="0.8" stroke-width="1.1" stroke-dasharray="3.1 3.2"/><line x1="0" y1="309.4" x2="975" y2="309.4" stroke="#70707c" stroke-opacity="0.8" stroke-width="1.1" stroke-dasharray="3.1 3.2"/><line x1="0" y1="327.4" x2="975" y2="327.4" stroke="#3560c0" stroke-opacity="0.75" stroke-width="1" stroke-dasharray="1 1.4"/><line x1="0" y1="159.4" x2="975" y2="159.4" stroke="#e8e8ec" stroke-width="1.8" stroke-dasharray="5.7 6.69" stroke-dashoffset="1.79"/><line x1="0" y1="353.7" x2="975" y2="353.7" stroke="#e8e8ec" stroke-width="1.8" stroke-dasharray="6 6.39" stroke-dashoffset="0"/><line x1="136.3" y1="48.3" x2="844.5" y2="325.7" stroke="#e6e6ea" stroke-width="1.45"/><line x1="136.3" y1="281.8" x2="844.5" y2="363.1" stroke="#e6e6ea" stroke-width="1.45"/><path d="M816.3 328.2 C817.2 328.7 819.6 330.7 821.5 331.4 C823.4 332.1 825.2 332.7 827.5 332.6 C829.8 332.5 832.6 332.1 835 330.6 C837.4 329.1 839.6 326.6 841.6 323.7 C843.6 320.8 845.3 316.9 847 313 C848.7 309.1 850.0 306.2 852 300 C854.0 293.8 857.3 284.3 859.2 276 C861.1 267.7 862.1 260.9 863.6 250 C865.1 239.1 866.8 221.3 868 210.5 C869.2 199.7 870.0 191.6 870.6 185 C871.2 178.4 871.4 173.3 871.6 171" fill="none" stroke="#f4f4f6" stroke-width="1.7" stroke-linecap="round"/><path d="M862.5 178.3 L871.8 169.3 L880.4 179.3" fill="none" stroke="#f4f4f6" stroke-width="1.7" stroke-linecap="round" stroke-linejoin="round"/><rect x="974.6" y="0" width="1.2" height="445" fill="#b4b4bc"/><rect x="0" y="428.2" width="975" height="1.3" fill="#9c9ca4"/><rect x="0" y="0" width="1024" height="1" fill="#3a3940"/><rect x="0" y="0" width="1" height="445" fill="#3a3940"/><rect x="0" y="444" width="1024" height="1" fill="#3a3940"/><text x="5.30" y="11.40" font-family="Liberation Sans, sans-serif" font-size="7" fill="#d6d8de" textLength="93.70" lengthAdjust="spacingAndGlyphs" stroke="#d6d8de" stroke-width="0.3">SHIB / TetherUS · 1W · Binance</text><text x="103.80" y="11.40" font-family="Liberation Sans, sans-serif" font-size="7" fill="#dc6f28" textLength="65.70" lengthAdjust="spacingAndGlyphs" stroke="#dc6f28" stroke-width="0.3">−0.00000041 (−4.53%)</text><text x="5.00" y="21.10" font-family="Liberation Sans, sans-serif" font-size="7" fill="#d6d8de" textLength="116.00" lengthAdjust="spacingAndGlyphs" stroke="#d6d8de" stroke-width="0.3">VRVP (Number Of Rows, 70, Up/Down)</text><text x="125.50" y="21.10" font-family="Liberation Sans, sans-serif" font-size="7" fill="#42809a" textLength="22.00" lengthAdjust="spacingAndGlyphs" stroke="#42809a" stroke-width="0.3">23.78T</text><text x="151.25" y="21.10" font-family="Liberation Sans, sans-serif" font-size="7" fill="#233d66" textLength="21.25" lengthAdjust="spacingAndGlyphs" stroke="#233d66" stroke-width="0.3">23.34T</text><text x="176.25" y="21.10" font-family="Liberation Sans, sans-serif" font-size="7" fill="#3c3c46" textLength="22.00" lengthAdjust="spacingAndGlyphs" stroke="#3c3c46" stroke-width="0.3">47.12T</text><text x="5.00" y="30.70" font-family="Liberation Sans, sans-serif" font-size="7" fill="#d6d8de" textLength="29.25" lengthAdjust="spacingAndGlyphs" stroke="#d6d8de" stroke-width="0.3">Vol · SHIB</text><text x="38.75" y="30.70" font-family="Liberation Sans, sans-serif" font-size="7" fill="#3366b0" textLength="17.50" lengthAdjust="spacingAndGlyphs" stroke="#3366b0" stroke-width="0.3">11.9T</text><text x="251.00" y="191.80" font-family="Liberation Sans, sans-serif" font-size="17.6" fill="#f4f4f6" font-weight="bold" textLength="111.00" lengthAdjust="spacingAndGlyphs">falling wedge</text><text x="601.70" y="146.90" font-family="Liberation Sans, sans-serif" font-size="11.3" fill="#ececf0" font-weight="bold" textLength="82.10" lengthAdjust="spacingAndGlyphs">resistance zone</text><text x="448.80" y="374.50" font-family="Liberation Sans, sans-serif" font-size="11.3" fill="#ececf0" font-weight="bold" textLength="69.00" lengthAdjust="spacingAndGlyphs">support zone</text><text x="854.60" y="148.20" font-family="Liberation Sans, sans-serif" font-size="18" fill="#ff0000" font-weight="bold" textLength="38.90" lengthAdjust="spacingAndGlyphs">SELL</text><text x="20.05" y="438.70" font-family="Liberation Sans, sans-serif" font-size="7" fill="#d6d8de" font-weight="bold" textLength="11.70" lengthAdjust="spacingAndGlyphs">Nov</text><text x="73.20" y="438.70" font-family="Liberation Sans, sans-serif" font-size="7" fill="#d6d8de" font-weight="bold" textLength="15.60" lengthAdjust="spacingAndGlyphs">2024</text><text x="137.70" y="438.70" font-family="Liberation Sans, sans-serif" font-size="7" fill="#d6d8de" font-weight="bold" font-style="italic" textLength="11.20" lengthAdjust="spacingAndGlyphs">Mar</text><text x="199.70" y="438.70" font-family="Liberation Sans, sans-serif" font-size="7" fill="#d6d8de" font-weight="bold" font-style="italic" textLength="12.20" lengthAdjust="spacingAndGlyphs">May</text><text x="257.00" y="438.70" font-family="Liberation Sans, sans-serif" font-size="7" fill="#d6d8de" font-weight="bold" textLength="9.00" lengthAdjust="spacingAndGlyphs">Jul</text><text x="318.25" y="438.70" font-family="Liberation Sans, sans-serif" font-size="7" fill="#d6d8de" font-weight="bold" textLength="11.50" lengthAdjust="spacingAndGlyphs">Sep</text><text x="380.35" y="438.70" font-family="Liberation Sans, sans-serif" font-size="7" fill="#d6d8de" font-weight="bold" textLength="11.70" lengthAdjust="spacingAndGlyphs">Nov</text><text x="440.90" y="438.70" font-family="Liberation Sans, sans-serif" font-size="7" fill="#d6d8de" font-weight="bold" textLength="15.60" lengthAdjust="spacingAndGlyphs">2025</text><text x="498.40" y="438.70" font-family="Liberation Sans, sans-serif" font-size="7" fill="#d6d8de" font-weight="bold" font-style="italic" textLength="11.20" lengthAdjust="spacingAndGlyphs">Mar</text><text x="560.50" y="438.70" font-family="Liberation Sans, sans-serif" font-size="7" fill="#d6d8de" font-weight="bold" font-style="italic" textLength="12.20" lengthAdjust="spacingAndGlyphs">May</text><text x="624.90" y="438.70" font-family="Liberation Sans, sans-serif" font-size="7" fill="#d6d8de" font-weight="bold" textLength="9.00" lengthAdjust="spacingAndGlyphs">Jul</text><text x="678.65" y="438.70" font-family="Liberation Sans, sans-serif" font-size="7" fill="#d6d8de" font-weight="bold" textLength="11.50" lengthAdjust="spacingAndGlyphs">Sep</text><text x="741.05" y="438.70" font-family="Liberation Sans, sans-serif" font-size="7" fill="#d6d8de" font-weight="bold" textLength="11.70" lengthAdjust="spacingAndGlyphs">Nov</text><text x="801.60" y="438.70" font-family="Liberation Sans, sans-serif" font-size="7" fill="#d6d8de" font-weight="bold" textLength="15.60" lengthAdjust="spacingAndGlyphs">2026</text><text x="859.20" y="438.70" font-family="Liberation Sans, sans-serif" font-size="7" fill="#d6d8de" font-weight="bold" font-style="italic" textLength="11.20" lengthAdjust="spacingAndGlyphs">Mar</text><text x="921.20" y="438.70" font-family="Liberation Sans, sans-serif" font-size="7" fill="#d6d8de" font-weight="bold" font-style="italic" textLength="12.20" lengthAdjust="spacingAndGlyphs">May</text><text x="979.90" y="22.30" font-family="Liberation Sans, sans-serif" font-size="8.2" fill="#e4e4ea" textLength="34.40" lengthAdjust="spacingAndGlyphs" stroke="#e4e4ea" stroke-width="0.2">0.00010000</text><text x="979.90" y="43.10" font-family="Liberation Sans, sans-serif" font-size="8.2" fill="#e4e4ea" textLength="34.40" lengthAdjust="spacingAndGlyphs" stroke="#e4e4ea" stroke-width="0.2">0.00008500</text><text x="979.90" y="67.40" font-family="Liberation Sans, sans-serif" font-size="8.2" fill="#e4e4ea" textLength="34.40" lengthAdjust="spacingAndGlyphs" stroke="#e4e4ea" stroke-width="0.2">0.00007000</text><text x="979.90" y="86.80" font-family="Liberation Sans, sans-serif" font-size="8.2" fill="#e4e4ea" textLength="34.40" lengthAdjust="spacingAndGlyphs" stroke="#e4e4ea" stroke-width="0.2">0.00006000</text><text x="979.90" y="110.20" font-family="Liberation Sans, sans-serif" font-size="8.2" fill="#e4e4ea" textLength="34.40" lengthAdjust="spacingAndGlyphs" stroke="#e4e4ea" stroke-width="0.2">0.00005000</text><text x="979.90" y="131.65" font-family="Liberation Sans, sans-serif" font-size="8.2" fill="#e4e4ea" textLength="34.40" lengthAdjust="spacingAndGlyphs" stroke="#e4e4ea" stroke-width="0.2">0.00004200</text><text x="979.90" y="150.90" font-family="Liberation Sans, sans-serif" font-size="8.2" fill="#e4e4ea" textLength="34.40" lengthAdjust="spacingAndGlyphs" stroke="#e4e4ea" stroke-width="0.2">0.00003600</text><text x="979.90" y="173.90" font-family="Liberation Sans, sans-serif" font-size="8.2" fill="#e4e4ea" textLength="34.40" lengthAdjust="spacingAndGlyphs" stroke="#e4e4ea" stroke-width="0.2">0.00003000</text><text x="979.90" y="191.65" font-family="Liberation Sans, sans-serif" font-size="8.2" fill="#e4e4ea" textLength="34.40" lengthAdjust="spacingAndGlyphs" stroke="#e4e4ea" stroke-width="0.2">0.00002600</text><text x="979.90" y="230.90" font-family="Liberation Sans, sans-serif" font-size="8.2" fill="#e4e4ea" textLength="34.40" lengthAdjust="spacingAndGlyphs" stroke="#e4e4ea" stroke-width="0.2">0.00001900</text><text x="979.90" y="275.40" font-family="Liberation Sans, sans-serif" font-size="8.2" fill="#e4e4ea" textLength="34.40" lengthAdjust="spacingAndGlyphs" stroke="#e4e4ea" stroke-width="0.2">0.00001350</text><text x="979.90" y="294.40" font-family="Liberation Sans, sans-serif" font-size="8.2" fill="#e4e4ea" textLength="34.40" lengthAdjust="spacingAndGlyphs" stroke="#e4e4ea" stroke-width="0.2">0.00001150</text><text x="979.90" y="353.40" font-family="Liberation Sans, sans-serif" font-size="8.2" fill="#e4e4ea" textLength="34.40" lengthAdjust="spacingAndGlyphs" stroke="#e4e4ea" stroke-width="0.2">0.00000730</text><text x="979.90" y="369.90" font-family="Liberation Sans, sans-serif" font-size="8.2" fill="#e4e4ea" textLength="34.40" lengthAdjust="spacingAndGlyphs" stroke="#e4e4ea" stroke-width="0.2">0.00000630</text><text x="979.90" y="386.65" font-family="Liberation Sans, sans-serif" font-size="8.2" fill="#e4e4ea" textLength="34.40" lengthAdjust="spacingAndGlyphs" stroke="#e4e4ea" stroke-width="0.2">0.00000550</text><text x="979.90" y="404.15" font-family="Liberation Sans, sans-serif" font-size="8.2" fill="#e4e4ea" textLength="34.40" lengthAdjust="spacingAndGlyphs" stroke="#e4e4ea" stroke-width="0.2">0.00000480</text><text x="979.90" y="421.90" font-family="Liberation Sans, sans-serif" font-size="8.2" fill="#e4e4ea" textLength="34.40" lengthAdjust="spacingAndGlyphs" stroke="#e4e4ea" stroke-width="0.2">0.00000415</text><rect x="975.5" y="113.00" width="42.5" height="10" rx="1.5" fill="#f4f4f6"/><text x="979.90" y="120.90" font-family="Liberation Sans, sans-serif" font-size="8.2" fill="#26262c" textLength="34.40" lengthAdjust="spacingAndGlyphs" stroke="#26262c" stroke-width="0.2">0.00004600</text><rect x="975.5" y="154.50" width="42.5" height="10" rx="1.5" fill="#f4f4f6"/><text x="979.90" y="162.40" font-family="Liberation Sans, sans-serif" font-size="8.2" fill="#26262c" textLength="34.40" lengthAdjust="spacingAndGlyphs" stroke="#26262c" stroke-width="0.2">0.00003300</text><rect x="975.5" y="205.50" width="42.5" height="10" rx="1.5" fill="#f4f4f6"/><text x="979.90" y="213.40" font-family="Liberation Sans, sans-serif" font-size="8.2" fill="#26262c" textLength="34.40" lengthAdjust="spacingAndGlyphs" stroke="#26262c" stroke-width="0.2">0.00002200</text><rect x="975.5" y="245.20" width="42.5" height="10" rx="1.5" fill="#f4f4f6"/><text x="979.90" y="253.10" font-family="Liberation Sans, sans-serif" font-size="8.2" fill="#26262c" textLength="34.40" lengthAdjust="spacingAndGlyphs" stroke="#26262c" stroke-width="0.2">0.00001600</text><rect x="975.5" y="271.00" width="42.5" height="10" rx="1.5" fill="#f4f4f6"/><text x="979.90" y="278.90" font-family="Liberation Sans, sans-serif" font-size="8.2" fill="#26262c" textLength="34.40" lengthAdjust="spacingAndGlyphs" stroke="#26262c" stroke-width="0.2">0.00001300</text><rect x="975.5" y="304.60" width="42.5" height="10" rx="1.5" fill="#f4f4f6"/><text x="979.90" y="312.50" font-family="Liberation Sans, sans-serif" font-size="8.2" fill="#26262c" textLength="34.40" lengthAdjust="spacingAndGlyphs" stroke="#26262c" stroke-width="0.2">0.00001000</text><rect x="975.5" y="349.20" width="42.5" height="10" rx="1.5" fill="#f4f4f6"/><text x="979.90" y="357.10" font-family="Liberation Sans, sans-serif" font-size="8.2" fill="#26262c" textLength="34.40" lengthAdjust="spacingAndGlyphs" stroke="#26262c" stroke-width="0.2">0.00000700</text><rect x="975.5" y="322.50" width="42.5" height="10" rx="1.5" fill="#3d6bc4"/><text x="979.90" y="330.40" font-family="Liberation Sans, sans-serif" font-size="8.2" fill="#f4f4f6" textLength="34.40" lengthAdjust="spacingAndGlyphs" stroke="#f4f4f6" stroke-width="0.2">0.00000864</text><rect x="977.3" y="2.9" width="44.2" height="14.2" rx="2" fill="#0e0e10" stroke="#3c3c42" stroke-width="0.8"/><text x="982.20" y="12.80" font-family="Liberation Sans, sans-serif" font-size="7" fill="#c8c8ce" textLength="15.50" lengthAdjust="spacingAndGlyphs" stroke="#c8c8ce" stroke-width="0.3">USDT</text></svg></body></html>
